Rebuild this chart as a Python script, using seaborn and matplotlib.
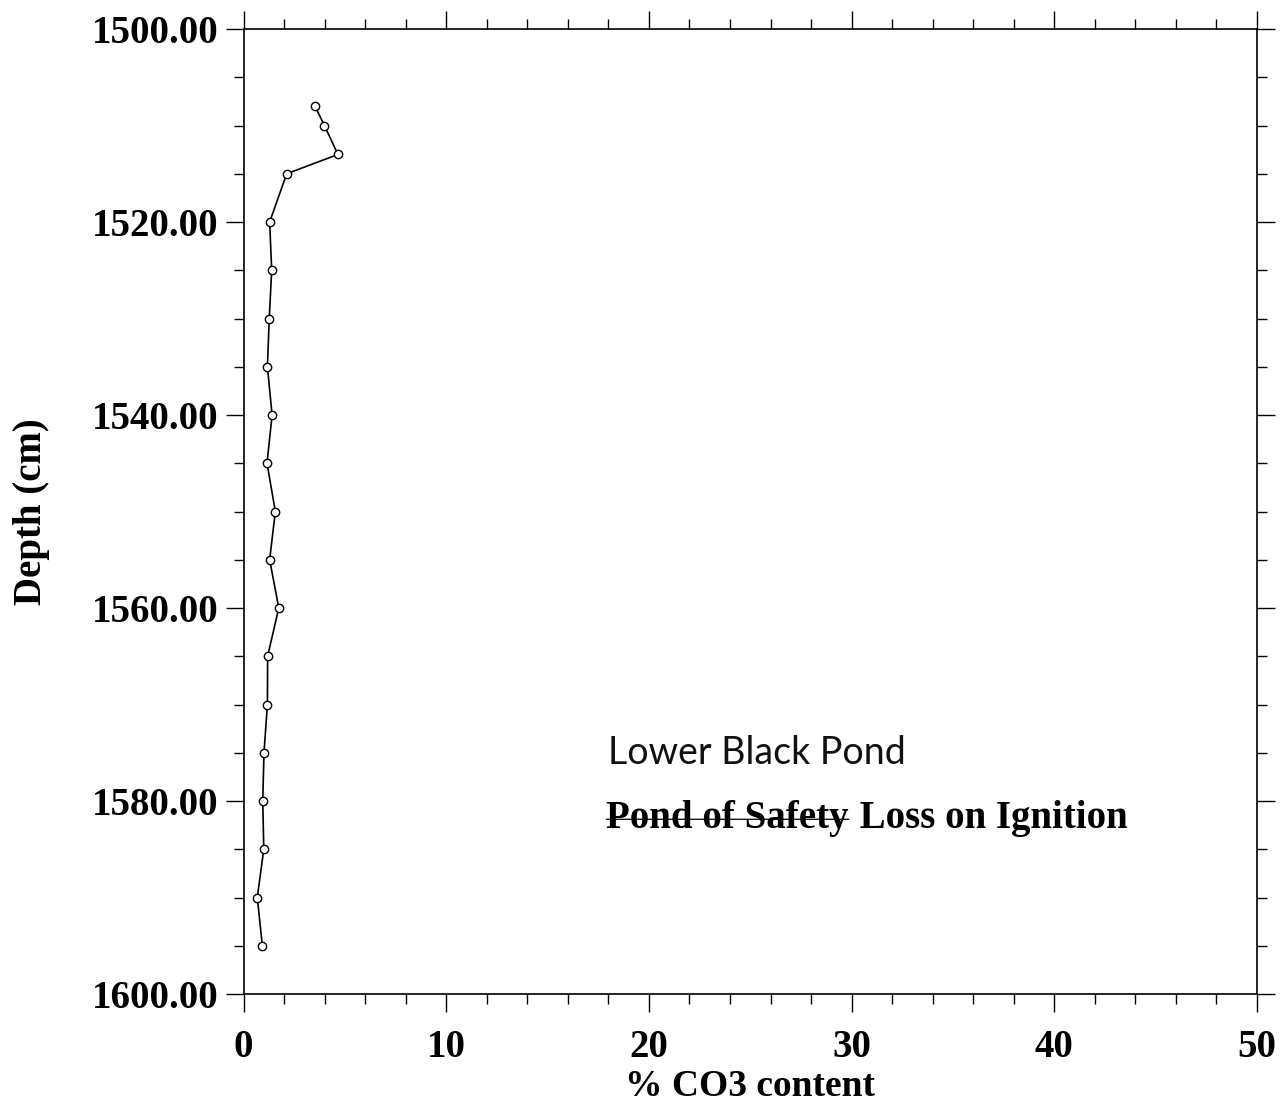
import matplotlib
matplotlib.use("Agg")
import matplotlib.pyplot as plt
import seaborn as sns
import pandas as pd
from matplotlib.ticker import MultipleLocator, FormatStrFormatter

# Data
depth_cm = [1508, 1510, 1513, 1515, 1520, 1525, 1530, 1535, 1540, 1545,
            1550, 1555, 1560, 1565, 1570, 1575, 1580, 1585, 1590, 1595]
co3_pct = [3.53, 3.99, 4.66, 2.13, 1.29, 1.39, 1.27, 1.18, 1.41, 1.16,
           1.57, 1.29, 1.74, 1.19, 1.18, 1.01, 0.95, 1.00, 0.68, 0.93]

x_label = "% CO3 content"
y_label = "Depth (cm)"
title_struck = "Pond of Safety"
title_rest = " Loss on Ignition"
handwritten = "Lower Black Pond"

df = pd.DataFrame({"depth": depth_cm, "co3": co3_pct})

sns.set_style("ticks")
plt.rcParams["font.family"] = ["Liberation Serif", "DejaVu Serif"]
plt.rcParams["text.color"] = "black"
plt.rcParams["axes.labelcolor"] = "black"
plt.rcParams["xtick.color"] = "black"
plt.rcParams["ytick.color"] = "black"

fig = plt.figure(figsize=(12.85, 11.03), dpi=100)
ax = fig.add_axes([0.1895, 0.0988, 0.7887, 0.8749])

sns.lineplot(data=df, x="co3", y="depth", sort=False, estimator=None,
             color="black", linewidth=1.2, marker="o", markersize=6,
             markerfacecolor="white", markeredgecolor="black",
             markeredgewidth=1.0, ax=ax)

ax.set_xlim(0, 50)
ax.set_ylim(1600, 1500)

ax.xaxis.set_major_locator(MultipleLocator(10))
ax.xaxis.set_minor_locator(MultipleLocator(2))
ax.yaxis.set_major_locator(MultipleLocator(20))
ax.yaxis.set_minor_locator(MultipleLocator(5))
ax.yaxis.set_major_formatter(FormatStrFormatter("%.2f"))

for s in ax.spines.values():
    s.set_visible(True)
    s.set_linewidth(1.2)
    s.set_color("black")

ax.tick_params(which="both", direction="out", top=True, right=True,
               labeltop=False, labelright=False, color="black",
               labelcolor="black", width=1.0)
ax.tick_params(which="major", length=13)
ax.tick_params(which="minor", length=7)
ax.tick_params(axis="y", which="major", pad=5)
ax.tick_params(axis="x", which="major", pad=12)

for lab in ax.get_xticklabels() + ax.get_yticklabels():
    lab.set_fontsize(28)
    lab.set_fontweight("bold")

ax.set_xlabel(x_label, fontsize=27, fontweight="bold", labelpad=2,
              color="black")
ax.set_ylabel(y_label, fontsize=28, fontweight="bold", labelpad=30,
              color="black")

t1 = ax.text(17.9, 1582.8, title_struck, fontsize=28, fontweight="bold",
             ha="left", va="baseline", color="black")
ax.annotate(title_rest, xy=(1, 0), xycoords=t1, xytext=(1, 0),
            textcoords="offset points", ha="left", va="bottom",
            fontsize=28, fontweight="bold", color="black")
ax.annotate("", xy=(1.0, 0.48), xycoords=t1, xytext=(0.0, 0.48),
            textcoords=t1,
            arrowprops=dict(arrowstyle="-", lw=0.9, color="black",
                            shrinkA=0, shrinkB=0))

ax.text(18.0, 1576.2, handwritten, fontsize=27, fontweight="normal",
        family=["Lato", "DejaVu Sans"], ha="left", va="baseline",
        color="#111111")

fig.savefig("out.png", dpi=100)
